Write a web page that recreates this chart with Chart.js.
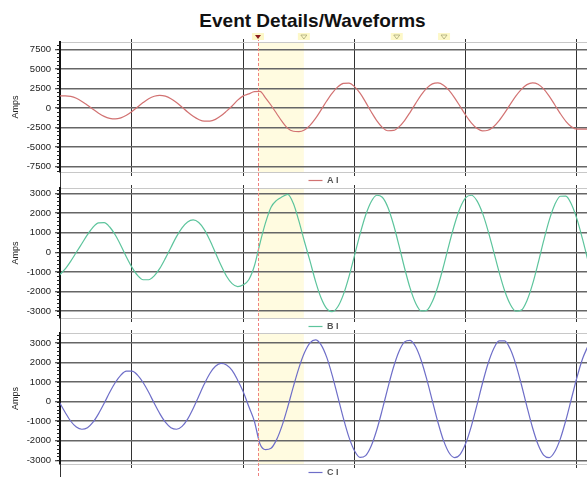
<!DOCTYPE html>
<html><head><meta charset="utf-8">
<script src="https://cdn.jsdelivr.net/npm/chart.js@4"></script>
<style>
html,body{margin:0;padding:0;background:#fff;overflow:hidden;width:587px;height:477px;}
#title{position:absolute;left:38px;width:549px;top:11px;text-align:center;font:bold 19px "Liberation Sans",Arial,sans-serif;line-height:19px;color:#111;}
canvas{position:absolute;left:0;}
</style></head><body>
<div id="title">Event Details/Waveforms</div>
<canvas id="c1" width="587" height="165" style="top:30px"></canvas>
<canvas id="c2" width="587" height="165" style="top:176px"></canvas>
<canvas id="c3" width="587" height="166" style="top:321px"></canvas>
<script>
// ---- data (time in ms, currents in Amps) ----
const timesMs = [-13,-12,-11,-10,-9,-8,-7,-6,-5,-4,-3,-2,-1,0,1,2,3,4,5,6,7,8,9,10,11,12,13,14,15,16,17,18,19,20,21,22,23,24,25,26,27,28,29,30,31,32,33,34,35,36,37,38,39,40,41,42,43,44,45,46,47,48,49,50,51,52,53,54,55,56,57,58,59,60,61,62,63,64,65,66,67,68,69,70,71,72,73,74,75,76,77,78,79,80,81,82];
const currentA = [1540,1560,1480,1240,840,350,-170,-660,-1070,-1320,-1400,-1270,-940,-450,120,690,1180,1500,1620,1510,1190,700,110,-510,-1060,-1470,-1690,-1680,-1450,-1000,-400,250,1000,1550,1800,2100,2120,1300,350,-700,-1750,-2600,-2970,-3020,-2810,-2220,-1330,-240,890,1910,2700,3150,3180,2740,1890,750,-480,-1620,-2480,-2910,-2870,-2410,-1600,-550,590,1680,2540,3080,3210,2920,2250,1300,190,-930,-1900,-2600,-2930,-2850,-2400,-1620,-630,470,1520,2390,2990,3220,3040,2450,1530,420,-710,-1700,-2400,-2710,-2700,-2690];
const currentB = [-1150,-850,-450,0,450,900,1280,1500,1510,1290,880,350,-240,-770,-1180,-1400,-1400,-1200,-820,-310,250,800,1250,1550,1650,1520,1160,620,-20,-660,-1220,-1600,-1750,-1660,-1400,-700,450,1500,2300,2650,2830,2960,2500,1600,550,-440,-1480,-2330,-2870,-3030,-2780,-2160,-1250,-170,930,1890,2580,2910,2810,2300,1430,350,-800,-1830,-2600,-2990,-2960,-2510,-1730,-720,390,1430,2270,2790,2910,2640,2010,1110,60,-1010,-1960,-2650,-3000,-2950,-2470,-1640,-570,580,1630,2430,2860,2870,2450,1690,670,-450];
const currentC = [-50,-550,-1000,-1300,-1410,-1330,-1050,-610,-80,480,980,1360,1560,1560,1360,980,480,-80,-610,-1050,-1330,-1410,-1260,-890,-350,280,900,1440,1810,1960,1880,1600,1100,510,-250,-1000,-2150,-2450,-2380,-1940,-1210,-270,760,1720,2500,3010,3160,2910,2280,1350,260,-840,-1810,-2510,-2850,-2760,-2270,-1450,-410,710,1750,2570,3060,3140,2810,2110,1140,40,-1050,-1980,-2610,-2860,-2690,-2130,-1260,-190,930,1940,2700,3110,3110,2690,1910,880,-250,-1320,-2190,-2730,-2860,-2560,-1900,-950,150,1250,2200,2860];
const seriesLabels = ['A I', 'B I', 'C I'];
const yTicksA = [-7500, -5000, -2500, 0, 2500, 5000, 7500];
const yTicksBC = [-3000, -2000, -1000, 0, 1000, 2000, 3000];
const xGridTimesMs = [0, 20, 40, 60, 80];
const eventTimeMs = 22.65;
const highlightEndMs = 30.9;
const markerTimesMs = [22.65, 30.9, 47.6, 56.1];
const X_MIN = -12.94, X_MAX = 81.8;

const FONT = '"Liberation Sans", Arial, sans-serif';

const bandPlugin = {
  id: 'band',
  beforeDraw(chart) {
    const {ctx, chartArea: a, scales} = chart;
    const x1 = scales.x.getPixelForValue(eventTimeMs);
    const x2 = scales.x.getPixelForValue(highlightEndMs);
    ctx.save();
    ctx.fillStyle = '#fffbe0';
    ctx.fillRect(x1, a.top, x2 - x1, a.bottom - a.top);
    ctx.restore();
  }
};

function overlayPlugin(minorStep, showMarkers) {
  return {
    id: 'overlay',
    afterDraw(chart) {
      const {ctx, chartArea: a, scales} = chart;
      const xs = scales.x, ys = scales.y;
      ctx.save();
      // minor ticks on y axis
      ctx.strokeStyle = '#222';
      ctx.lineWidth = 1;
      const k0 = Math.ceil(ys.min / minorStep), k1 = Math.floor(ys.max / minorStep);
      ctx.beginPath();
      for (let k = k0; k <= k1; k++) {
        const y = Math.round(ys.getPixelForValue(k * minorStep)) + 0.5;
        ctx.moveTo(a.left - 3, y); ctx.lineTo(a.left, y);
      }
      ctx.stroke();
      // axis line continuing through the gap
      ctx.strokeStyle = '#333';
      ctx.beginPath();
      ctx.moveTo(a.left + 0.5, a.bottom); ctx.lineTo(a.left + 0.5, a.bottom + 16);
      ctx.stroke();
      // event dashed line
      const ex = Math.round(xs.getPixelForValue(eventTimeMs)) + 0.5;
      ctx.strokeStyle = '#f08080';
      ctx.setLineDash([3, 2]);
      ctx.beginPath();
      ctx.moveTo(ex, showMarkers ? a.top - 4 : a.top);
      ctx.lineTo(ex, a.bottom + 16);
      ctx.stroke();
      ctx.setLineDash([]);
      if (showMarkers) {
        markerTimesMs.forEach((t, i) => {
          const mx = xs.getPixelForValue(t);
          const my = a.top - 5;
          ctx.fillStyle = '#fdf8c8';
          ctx.fillRect(mx - 6, my - 4, 12, 7);
          ctx.beginPath();
          ctx.moveTo(mx - 3, my - 2); ctx.lineTo(mx + 3, my - 2); ctx.lineTo(mx, my + 2); ctx.closePath();
          if (i === 0) { ctx.fillStyle = '#8b1c1c'; ctx.fill(); }
          else { ctx.strokeStyle = '#a8a878'; ctx.lineWidth = 0.8; ctx.stroke(); }
        });
      }
      ctx.restore();
    }
  };
}

function buildChart(canvasId, label, values, color, yMin, yMax, yTicks, yMinorStep, showMarkers) {
  const points = timesMs.map((t, i) => ({x: t, y: values[i]}));
  const xCommon = {
    type: 'linear', min: X_MIN, max: X_MAX,
    ticks: {display: false},
    afterBuildTicks: s => { s.ticks = xGridTimesMs.map(v => ({value: v})); }
  };
  return new Chart(document.getElementById(canvasId), {
    type: 'line',
    data: {datasets: [{label, data: points, borderColor: color, backgroundColor: color,
      borderWidth: 1.2, pointRadius: 0, tension: 0.4, cubicInterpolationMode: 'monotone', fill: false}]},
    options: {
      responsive: false, animation: false, devicePixelRatio: 1,
      layout: {padding: 0},
      events: [],
      plugins: {
        tooltip: {enabled: false},
        legend: {
          position: 'bottom', align: 'center', fullSize: false,
          labels: {usePointStyle: true, pointStyle: 'line', pointStyleWidth: 14, padding: 0,
            color: '#555', font: {family: FONT, size: 9, weight: 'bold'}}
        }
      },
      scales: {
        x: Object.assign({}, xCommon, {
          position: 'bottom',
          grid: {color: '#333', lineWidth: 1, tickLength: 4, tickColor: '#333'},
          border: {color: '#c8c8c8', width: 1},
          afterFit: s => { s.height = 4; }
        }),
        xTop: Object.assign({}, xCommon, {
          position: 'top',
          grid: {drawOnChartArea: false, color: '#333', tickLength: 3, tickColor: '#333'},
          border: {color: '#c8c8c8', width: 1},
          afterFit: s => { s.height = 12; }
        }),
        y: {
          type: 'linear', min: yMin, max: yMax,
          afterBuildTicks: s => { s.ticks = yTicks.map(v => ({value: v})); },
          ticks: {padding: 4, color: '#222', callback: v => String(v),
            font: {family: FONT, size: 9.5}},
          grid: {color: '#666', lineWidth: 1.5, tickLength: 5, tickColor: '#222', tickWidth: 1},
          border: {color: '#111', width: 2},
          title: {display: true, text: 'Amps', color: '#222', padding: {top: 10, bottom: 0},
            font: {family: FONT, size: 9}},
          afterFit: s => { s.width = 60; }
        }
      }
    },
    plugins: [bandPlugin, overlayPlugin(yMinorStep, showMarkers)]
  });
}

buildChart('c1', seriesLabels[0], currentA, '#d27272', -8184, 8440, yTicksA, 500, true);
buildChart('c2', seriesLabels[1], currentB, '#5cc49c', -3352, 3281, yTicksBC, 200, false);
buildChart('c3', seriesLabels[2], currentC, '#6e6ec8', -3187, 3514, yTicksBC, 200, false);
</script>
</body></html>
